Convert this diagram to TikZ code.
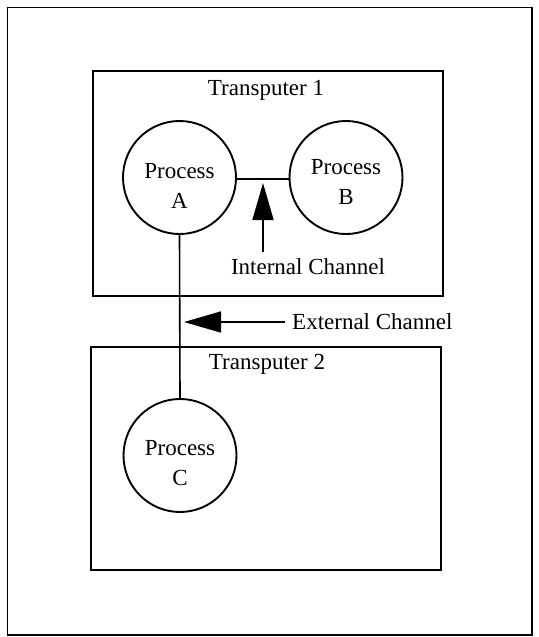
\documentclass[tikz,border=0pt]{standalone}
\usepackage{fontspec}
\setmainfont{Liberation Serif}
\usetikzlibrary{arrows.meta}
\begin{document}
\begin{tikzpicture}[x=1pt,y=-1pt,
  lbl/.style={font=\fontsize{23}{27}\selectfont, inner sep=0pt},
  proc/.style={circle, draw, line width=1.9pt, minimum size=113pt, inner sep=0pt},
  proctext/.style={align=center, font=\fontsize{23}{30}\selectfont, inner sep=0pt, yshift=-8pt},
  tbox/.style={draw, line width=1.9pt},
  conn/.style={line width=1.6pt},
  bigarrow/.style={line width=1.7pt, -{Triangle[length=37pt,width=21pt]}}]
\useasboundingbox (0,0) rectangle (538,637);
\fill[white] (0,0) rectangle (538,637);
\draw[line width=1.7pt] (7.5,7.5) rectangle (532,635);
\draw[tbox] (93,71) rectangle (443,296);
\draw[tbox] (91,347) rectangle (441,570);
\node[lbl] (t1) at (266,90) {Transputer 1};
\node[lbl] (t2) at (267,364) {Transputer 2};
\node[proc, label={[proctext]center:Process\\A}] (A) at (179.5,177.5) {};
\node[proc, label={[proctext, yshift=3pt]center:Process\\B}] (B) at (346,177.5) {};
\node[proc, label={[proctext]center:Process\\C}] (C) at (180,455.5) {};
\draw[conn] (A.east |- 0,179) -- (B.west |- 0,179);
\draw[conn] (A.south) -- (C.north);
\coordinate (ich) at (263,183);
\node[lbl] (itxt) at (308,267) {Internal Channel};
\draw[bigarrow] (263,252) -- (ich);
\coordinate (ech) at (184,322);
\node[lbl, anchor=west] (etxt) at (292,322) {External Channel};
\draw[bigarrow] (285,322) -- (ech);
\end{tikzpicture}
\end{document}
